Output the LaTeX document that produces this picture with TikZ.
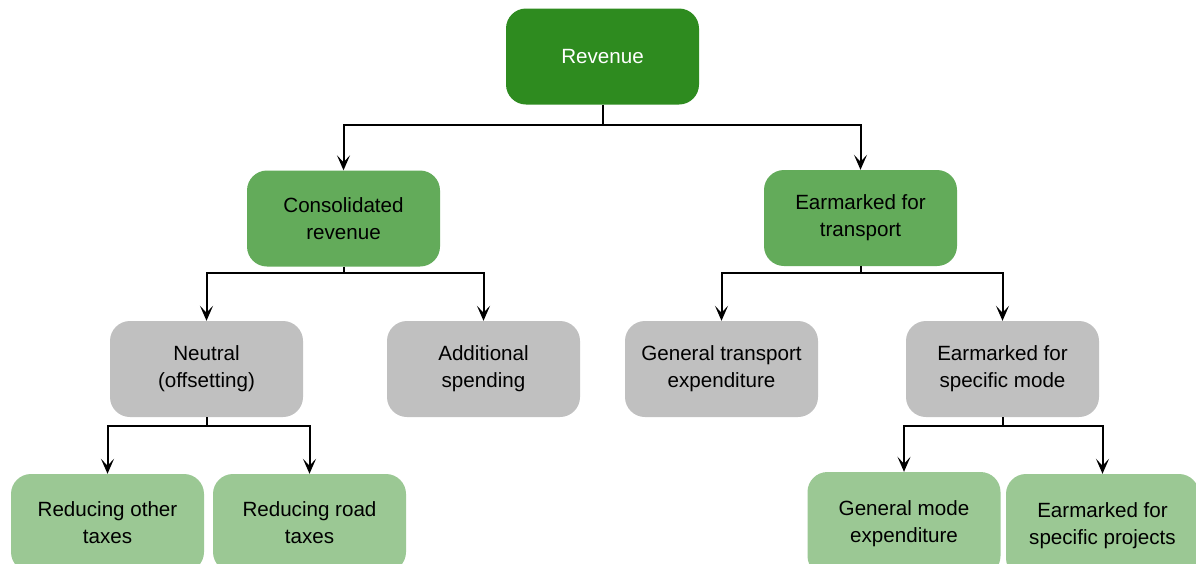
\documentclass[tikz,border=0pt]{standalone}
\usepackage{fontspec}
\setmainfont{Liberation Sans}
\usetikzlibrary{arrows.meta}
\definecolor{gdark}{RGB}{46,139,31}
\definecolor{gmid}{RGB}{99,171,90}
\definecolor{glight}{RGB}{155,200,148}
\definecolor{ggray}{RGB}{192,192,192}
\begin{document}
\begin{tikzpicture}[x=1pt,y=-1pt,
  box/.style={rounded corners=20pt, minimum width=193pt, minimum height=96pt, align=center, inner sep=0pt,
    font=\fontsize{20.6}{27}\selectfont, text=black},
  lvlA/.style={box, fill=gdark, text=white},
  lvlB/.style={box, fill=gmid},
  lvlC/.style={box, fill=ggray},
  lvlD/.style={box, fill=glight, minimum height=98pt},
  lvlE/.style={box, fill=glight, minimum height=104pt},
  conn/.style={draw=black, line width=2pt},
  arr/.style={conn, -{Stealth[length=15pt,width=13pt,inset=7pt]}}]
\useasboundingbox (0,0) rectangle (1196,563);
\clip (0,0) rectangle (1196,563);
\fill[white] (0,0) rectangle (1196,563);

\node[lvlA] (rev) at (602.5,56.5) {Revenue};
\node[lvlB] (cons) at (343.5,218.5) {Consolidated\\revenue};
\node[lvlB] (earm) at (860.5,218) {Earmarked for\\transport};
\node[lvlC] (neut) at (206.5,369) {Neutral\\(offsetting)};
\node[lvlC] (add) at (483.5,369) {Additional\\spending};
\node[lvlC] (gte) at (721.5,369) {General transport\\expenditure};
\node[lvlC] (esm) at (1002.5,369) {Earmarked for\\specific mode};
\node[lvlD] (rot) at (107.5,523) {Reducing other\\taxes};
\node[lvlD] (rrt) at (309.5,523) {Reducing road\\taxes};
\node[lvlE] (gme) at (904,524) {General mode\\expenditure};
\node[lvlE] (esp) at (1102.5,526) {Earmarked for\\specific projects};

\coordinate (j1) at (602.5,125);
\coordinate (j2) at (343.5,273);
\coordinate (j3) at (860.5,273);
\coordinate (j4) at (206.5,426);
\coordinate (j5) at (1002.5,426);

\draw[conn] (rev.south) -- (j1);
\draw[arr] (j1) -| (cons.north);
\draw[arr] (j1) -| (earm.north);
\draw[conn] (cons.south) -- (j2);
\draw[arr] (j2) -| (neut.north);
\draw[arr] (j2) -| (add.north);
\draw[conn] (earm.south) -- (j3);
\draw[arr] (j3) -| (gte.north);
\draw[arr] (j3) -| (esm.north);
\draw[conn] (neut.south) -- (j4);
\draw[arr] (j4) -| (rot.north);
\draw[arr] (j4) -| (rrt.north);
\draw[conn] (esm.south) -- (j5);
\draw[arr] (j5) -| (gme.north);
\draw[arr] (j5) -| (esp.north);
\end{tikzpicture}
\end{document}
